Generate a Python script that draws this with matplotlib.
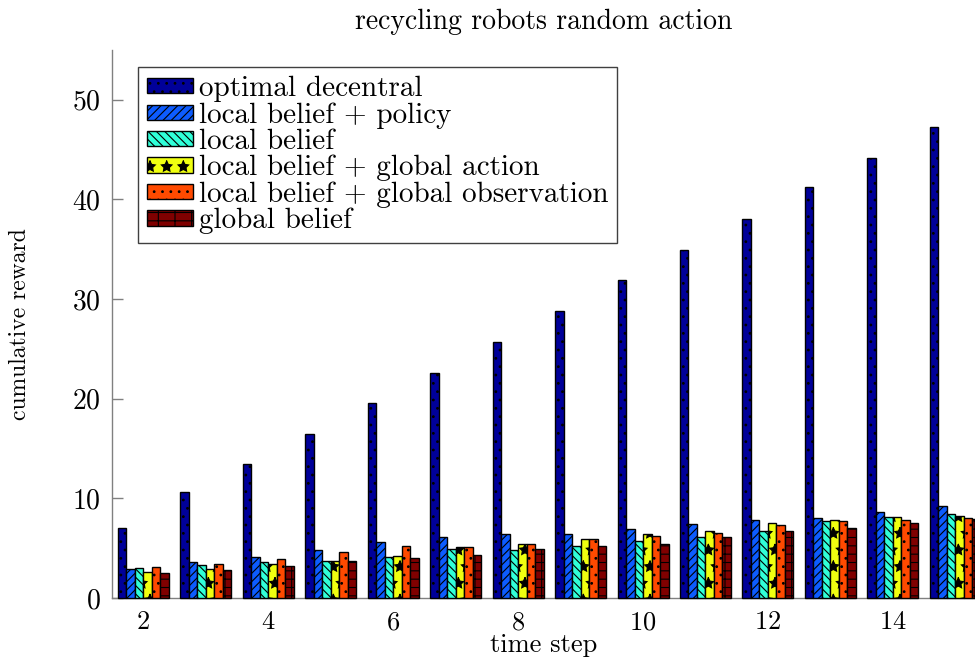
#!/usr/bin/env python3

"""Cumulative reward per time step for the recycling robots benchmark (random action)."""

import matplotlib
matplotlib.use("Agg")
import matplotlib.pyplot as plt
import numpy as np

plt.rcParams["font.family"] = ["cmr10", "DejaVu Serif"]
plt.rcParams["mathtext.fontset"] = "cm"
plt.rcParams["axes.formatter.use_mathtext"] = True
plt.rcParams["hatch.linewidth"] = 0.8

steps = [2, 3, 4, 5, 6, 7, 8, 9, 10, 11, 12, 13, 14, 15]

optimal_decentral = [7.0, 10.6, 13.4, 16.5, 19.6, 22.6, 25.7, 28.8, 31.9, 34.9, 38.0, 41.2, 44.2, 47.3]
local_belief_policy = [2.9, 3.6, 4.1, 4.8, 5.6, 6.1, 6.4, 6.4, 6.9, 7.45, 7.85, 8.0, 8.65, 9.2]
local_belief = [3.0, 3.3, 3.6, 3.75, 4.1, 4.9, 4.8, 5.2, 5.75, 6.1, 6.7, 7.7, 8.15, 8.4]
local_belief_global_action = [2.6, 2.9, 3.4, 3.75, 4.2, 5.1, 5.45, 5.95, 6.4, 6.7, 7.5, 7.8, 8.15, 8.2]
local_belief_global_obs = [3.1, 3.4, 3.9, 4.6, 5.25, 5.15, 5.4, 5.95, 6.2, 6.5, 7.3, 7.7, 7.8, 8.05]
global_belief = [2.5, 2.8, 3.2, 3.7, 4.0, 4.3, 4.9, 5.2, 5.45, 6.1, 6.7, 7.05, 7.55, 7.9]

series_labels = [
    "optimal decentral",
    "local belief + policy",
    "local belief",
    "local belief + global action",
    "local belief + global observation",
    "global belief",
]
series_colors = ["#000099", "#0d5cff", "#30ffd8", "#f0ff10", "#ff4a00", "#800000"]
series_hatches = ["..", "////", "\\\\\\\\", "*", "..", "--|"]

bar_width = 0.136

fig = plt.figure(figsize=(9.75, 6.61), dpi=100)
ax = fig.add_axes([112 / 975, 63 / 661, 864 / 975, 548 / 661])

all_series = [
    optimal_decentral,
    local_belief_policy,
    local_belief,
    local_belief_global_action,
    local_belief_global_obs,
    global_belief,
]
x = np.array(steps, dtype=float)
for k, values in enumerate(all_series):
    offset = (k - 2.5) * bar_width
    ax.bar(
        x + offset,
        values,
        width=bar_width,
        color=series_colors[k],
        edgecolor="black",
        linewidth=1.0,
        hatch=series_hatches[k],
        label=series_labels[k],
        clip_on=False,
        zorder=3,
    )

ax.set_xlim(1.5, 15.33)
ax.set_ylim(0, 55)
ax.set_xticks([2, 4, 6, 8, 10, 12, 14])
ax.set_yticks([0, 10, 20, 30, 40, 50])

for side in ("top", "right"):
    ax.spines[side].set_visible(False)
for side in ("left", "bottom"):
    ax.spines[side].set_color("#808080")
    ax.spines[side].set_linewidth(1.0)

ax.tick_params(axis="y", direction="in", length=8, width=1.0, color="#808080", pad=8, labelsize=20)
ax.tick_params(axis="x", length=0, pad=9, labelsize=19)

ax.set_title("recycling robots random action", fontsize=20, pad=15)
ax.set_xlabel("time step", fontsize=19, labelpad=-1)
ax.set_ylabel("cumulative reward", fontsize=17, labelpad=30)

legend = ax.legend(
    loc="upper left",
    bbox_to_anchor=(0.03, 0.969),
    borderaxespad=0,
    fontsize=21,
    frameon=True,
    fancybox=False,
    framealpha=1,
    edgecolor="#404040",
    handlelength=1.6,
    handleheight=0.42,
    handletextpad=0.2,
    labelspacing=0.0,
    borderpad=0.3,
)
legend.get_frame().set_linewidth(1.0)

fig.savefig("out.png", dpi=100)
